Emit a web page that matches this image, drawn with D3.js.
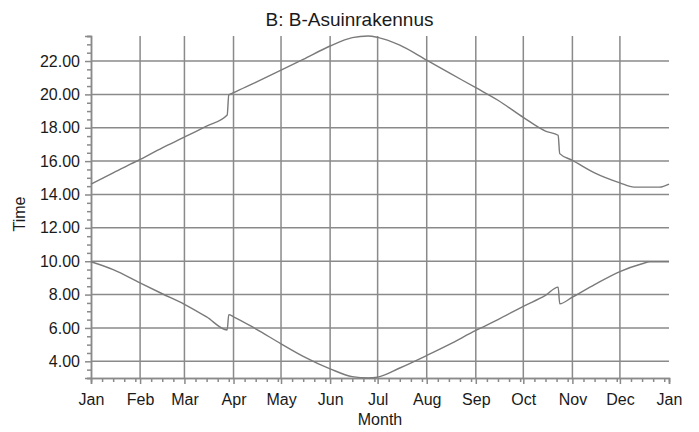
<!DOCTYPE html>
<html>
<head>
<meta charset="utf-8">
<script src="https://cdn.jsdelivr.net/npm/d3@7"></script>
<style>
  body { margin: 0; background: #fff; }
  text { font-family: "Liberation Sans", Arial, sans-serif; fill: #1a1a1a; }
</style>
</head>
<body>
<div id="chart"></div>
<script>
// sunset (upper) and sunrise (lower) curves
var setDates = ["2001-01-01","2001-01-15","2001-02-01","2001-02-15","2001-03-01","2001-03-15","2001-03-28","2001-03-29",
                "2001-04-01","2001-04-15","2001-05-01","2001-05-15","2001-06-01","2001-06-15","2001-06-25","2001-07-01",
                "2001-07-15","2001-08-01","2001-08-15","2001-09-01","2001-09-15","2001-10-01","2001-10-15","2001-10-23",
                "2001-10-24","2001-11-01","2001-11-15","2001-12-01","2001-12-10","2001-12-26","2002-01-01"];
var sunset = [14.62, 15.3, 16.1, 16.8, 17.44, 18.1, 18.76, 19.96,
              20.1, 20.72, 21.45, 22.1, 22.9, 23.4, 23.5, 23.42,
              22.95, 22.05, 21.3, 20.4, 19.65, 18.62, 17.8, 17.55,
              16.45, 16.05, 15.3, 14.7, 14.44, 14.44, 14.62];

var riseDates = ["2001-01-01","2001-01-15","2001-02-01","2001-02-15","2001-03-01","2001-03-15","2001-03-28","2001-03-29",
                 "2001-04-01","2001-04-15","2001-05-01","2001-05-15","2001-06-01","2001-06-15","2001-06-25","2001-07-01",
                 "2001-07-15","2001-08-01","2001-08-15","2001-09-01","2001-09-15","2001-10-01","2001-10-15","2001-10-23",
                 "2001-10-24","2001-11-01","2001-11-15","2001-12-01","2001-12-15","2001-12-20","2002-01-01"];
var sunrise = [9.97, 9.5, 8.7, 8.05, 7.42, 6.66, 5.88, 6.8,
               6.67, 5.95, 5.05, 4.3, 3.55, 3.08, 3.0, 3.05,
               3.6, 4.35, 5.0, 5.85, 6.5, 7.3, 7.95, 8.45,
               7.45, 7.85, 8.6, 9.38, 9.85, 9.97, 9.97];

var monthNames = ["Jan","Feb","Mar","Apr","May","Jun","Jul","Aug","Sep","Oct","Nov","Dec","Jan"];
var yTicks = [4, 6, 8, 10, 12, 14, 16, 18, 20, 22];

function init() {
    createChart();
}

function createChart() {
    var width = 699, height = 432;
    var margin = {left: 91, right: 30, top: 36, bottom: 54};
    var parse = d3.timeParse("%Y-%m-%d");

    var svg = d3.select("div#chart").append("svg")
        .attr("width", width)
        .attr("height", height);

    var x = d3.scaleTime()
        .domain([parse("2001-01-01"), parse("2002-01-01")])
        .range([margin.left, width - margin.right]);
    var y = d3.scaleLinear()
        .domain([3, 23.5])
        .range([height - margin.bottom, margin.top]);

    var gridColor = "#8a8a8a";

    // month ticks
    var monthTicks = d3.timeMonth.range(parse("2001-01-01"), parse("2002-01-02"));
    // minor ticks: 8th, 15th, 22nd, 29th of each month
    var minorX = [];
    monthTicks.slice(0, 12).forEach(function(m) {
        [8, 15, 22, 29].forEach(function(d) {
            var t = new Date(m.getFullYear(), m.getMonth(), d);
            if (t.getMonth() == m.getMonth()) minorX.push(t);
        });
    });
    var minorY = d3.range(3, 23.51, 0.5).filter(function(v) { return v % 2 != 0; });

    // grid
    svg.append("g").selectAll("line.vg")
        .data(monthTicks.slice(1, 12))
        .enter().append("line")
        .attr("x1", function(d) { return x(d); })
        .attr("x2", function(d) { return x(d); })
        .attr("y1", y(3)).attr("y2", y(23.5))
        .attr("stroke", gridColor).attr("stroke-width", 1.5);
    svg.append("g").selectAll("line.hg")
        .data(yTicks)
        .enter().append("line")
        .attr("x1", x.range()[0]).attr("x2", x.range()[1])
        .attr("y1", function(d) { return y(d); })
        .attr("y2", function(d) { return y(d); })
        .attr("stroke", gridColor).attr("stroke-width", 1.5);

    // axes
    var xAxis = d3.axisBottom(x)
        .tickValues(monthTicks)
        .tickFormat(function(d, i) { return monthNames[i]; })
        .tickSize(6).tickPadding(10);
    var gx = svg.append("g")
        .attr("transform", "translate(0," + y(3) + ")")
        .call(xAxis);
    gx.selectAll("text").attr("font-size", "16px").attr("font-family", null);

    var xMinor = d3.axisBottom(x).tickValues(minorX).tickSize(4).tickFormat("");
    svg.append("g").attr("transform", "translate(0," + y(3) + ")").call(xMinor);

    var yAxis = d3.axisLeft(y)
        .tickValues(yTicks)
        .tickFormat(d3.format(".2f"))
        .tickSize(6).tickPadding(5);
    var gy = svg.append("g")
        .attr("transform", "translate(" + x.range()[0] + ",0)")
        .call(yAxis);
    gy.selectAll("text").attr("font-size", "16px").attr("font-family", null);

    var yMinor = d3.axisLeft(y).tickValues(minorY).tickSize(4).tickFormat("");
    svg.append("g").attr("transform", "translate(" + x.range()[0] + ",0)").call(yMinor);

    svg.selectAll(".domain, .tick line")
        .attr("stroke", gridColor).attr("stroke-width", 1.5);

    // lines
    var line = d3.line()
        .x(function(d) { return x(d[0]); })
        .y(function(d) { return y(d[1]); })
        .curve(d3.curveMonotoneX);

    var setData = setDates.map(function(d, i) { return [parse(d), sunset[i]]; });
    var riseData = riseDates.map(function(d, i) { return [parse(d), sunrise[i]]; });

    svg.append("path").datum(setData)
        .attr("d", line)
        .attr("fill", "none").attr("stroke", "#7a7a7a").attr("stroke-width", 1.4);
    svg.append("path").datum(riseData)
        .attr("d", line)
        .attr("fill", "none").attr("stroke", "#7a7a7a").attr("stroke-width", 1.4);

    // titles
    svg.append("text")
        .attr("x", width / 2).attr("y", 26)
        .attr("text-anchor", "middle")
        .attr("font-size", "19px")
        .text("B: B-Asuinrakennus");
    svg.append("text")
        .attr("x", (x.range()[0] + x.range()[1]) / 2).attr("y", 425)
        .attr("text-anchor", "middle")
        .attr("font-size", "16px")
        .text("Month");
    svg.append("text")
        .attr("transform", "translate(25,214) rotate(-90)")
        .attr("text-anchor", "middle")
        .attr("font-size", "16px")
        .text("Time");
}

init();
</script>
</body>
</html>
